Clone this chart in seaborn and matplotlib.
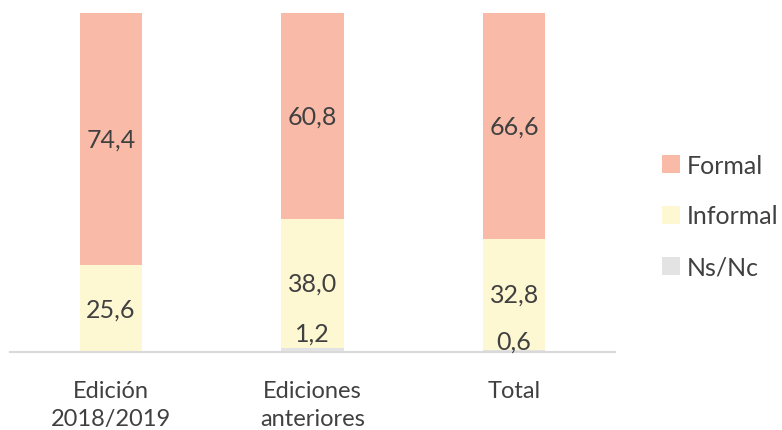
import matplotlib
matplotlib.use("Agg")
import matplotlib.pyplot as plt
import seaborn as sns
import numpy as np
import pandas as pd
from matplotlib.patches import Patch

categories = ["Edición\n2018/2019", "Ediciones\nanteriores", "Total"]
formal = [74.4, 60.8, 66.6]
informal = [25.6, 38.0, 32.8]
nsnc = [0.0, 1.2, 0.6]
series_names = ["Formal", "Informal", "Ns/Nc"]
colors = {"Formal": "#F9BBA8", "Informal": "#FDF7D2", "Ns/Nc": "#E3E3E3"}
text_color = "#404040"

sns.set_theme(style="white")
plt.rcParams["font.family"] = ["Lato", "DejaVu Sans"]

fig = plt.figure(figsize=(7.82, 4.31), dpi=100)
ax = fig.add_axes([10/782, (431-353)/431, 605/782, 339/431])

df = pd.DataFrame({"cat": categories, "Formal": formal, "Informal": informal, "Ns/Nc": nsnc})
df["c_ns"] = df["Ns/Nc"]
df["c_inf"] = df["c_ns"] + df["Informal"]
df["c_form"] = df["c_inf"] + df["Formal"]

for col, name in [("c_form", "Formal"), ("c_inf", "Informal"), ("c_ns", "Ns/Nc")]:
    sns.barplot(data=df, x="cat", y=col, color=colors[name], width=0.31,
                linewidth=0, saturation=1, ax=ax, errorbar=None)

fs = 18
for i in range(len(categories)):
    ax.text(i, df["c_inf"][i] + formal[i] / 2, f"{formal[i]:.1f}".replace(".", ","),
            ha="center", va="center", fontsize=fs, color=text_color)
    ax.text(i, df["c_ns"][i] + informal[i] / 2, f"{informal[i]:.1f}".replace(".", ","),
            ha="center", va="center", fontsize=fs, color=text_color)
    if nsnc[i] > 0:
        ax.text(i, nsnc[i] + (4.4 if nsnc[i] > 1 else 2.6), f"{nsnc[i]:.1f}".replace(".", ","),
                ha="center", va="center", fontsize=fs, color=text_color)

ax.set_xlim(-0.5, 2.5)
ax.set_ylim(0, 100)
ax.set_xlabel("")
ax.set_ylabel("")
ax.set_yticks([])
ax.tick_params(axis="x", length=0, labelsize=17, colors=text_color, pad=20)
for lab in ax.get_xticklabels():
    lab.set_linespacing(1.45)
for s in ["top", "left", "right"]:
    ax.spines[s].set_visible(False)
ax.spines["bottom"].set_color("#D9D9D9")
ax.spines["bottom"].set_linewidth(1.5)

handles = [Patch(facecolor=colors[n], edgecolor="none", label=n) for n in series_names]
fig.legend(handles=handles, loc="center left", bbox_to_anchor=(652/782, 1 - 217/431),
           frameon=False, fontsize=18, labelcolor=text_color, handlelength=0.7,
           handleheight=0.7, handletextpad=0.3, labelspacing=1.12, borderaxespad=0)

fig.savefig("out.png", dpi=100)
